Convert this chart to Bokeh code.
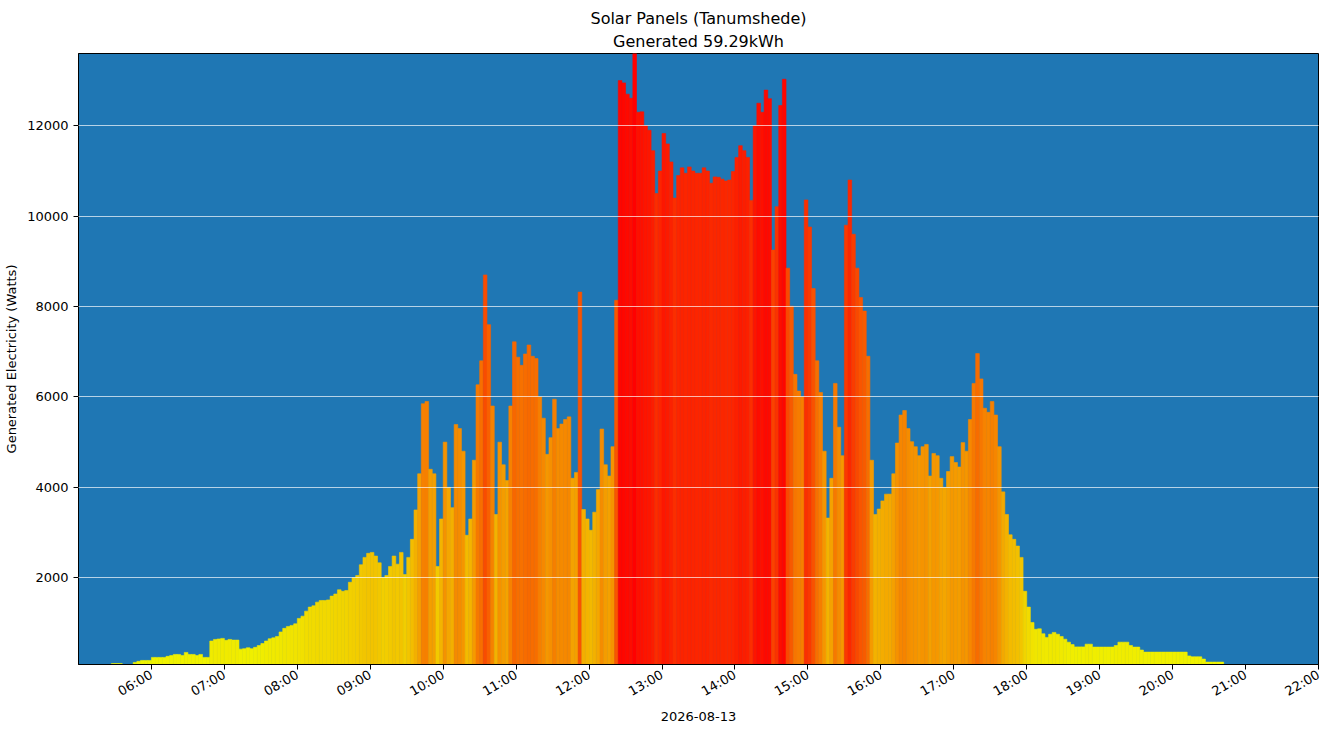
import math
import pandas as pd
from bokeh.plotting import figure
from bokeh.models import (ColumnDataSource, Range1d, FixedTicker,
                          DatetimeTickFormatter, Title)
from bokeh.embed import file_html
from bokeh.resources import INLINE

# readings of the day, one value per 3 minute slot (Watts)
day = "2026-08-13"
first_slot = "05:27"
slot_minutes = 3
watts = [
    # 05:27 - 05:57
    100, 100, 100, 0, 0, 0, 126, 150, 170, 170, 170,
    # 06:00
    237, 237, 237, 237, 260, 280, 303, 303, 280, 347,
    303, 303, 280, 303, 237, 237, 600, 635, 645, 658,
    # 07:00
    615, 635, 620, 620, 420, 430, 450, 430, 460, 500,
    545, 600, 650, 670, 700, 800, 880, 922, 945, 980,
    # 08:00
    1100, 1150, 1261, 1350, 1380, 1460, 1497, 1497, 1510, 1593,
    1640, 1733, 1700, 1718, 1900, 2000, 2050, 2287, 2450, 2540,
    # 09:00
    2560, 2480, 2330, 2007, 2050, 2250, 2480, 2300, 2560, 2070,
    2450, 2850, 3500, 4300, 5850, 5900, 4400, 4300, 2250, 3300,
    # 10:00
    5000, 4000, 3550, 5390, 5300, 4800, 2940, 3300, 4600, 6270,
    6800, 8700, 7600, 5800, 3400, 5000, 4500, 4150, 5800, 7220,
    # 11:00
    6880, 6700, 6950, 7150, 6900, 6850, 6000, 5530, 4730, 5100,
    5950, 5300, 5400, 5500, 5560, 4200, 4330, 8320, 3510, 3300,
    # 12:00
    3050, 3450, 3950, 5290, 4500, 4250, 4900, 8140, 13000, 12950,
    12700, 12610, 13600, 12300, 12310, 12000, 11900, 11450, 10500, 11000,
    # 13:00
    11830, 11600, 11200, 10400, 10900, 11070, 10950, 11090, 11000, 10950,
    10950, 11070, 11000, 10730, 10870, 10860, 10820, 10780, 10800, 10990,
    # 14:00
    11300, 11560, 11450, 11300, 10350, 12000, 12500, 12300, 12790, 12600,
    9250, 10210, 12450, 13030, 8850, 8010, 6500, 6130, 6000, 10360,
    # 15:00
    9760, 8400, 6800, 6100, 4800, 3320, 4200, 6300, 5330, 4700,
    9800, 10800, 9600, 8850, 8200, 7900, 6900, 4600, 3400, 3520,
    # 16:00
    3700, 3850, 3850, 4300, 4980, 5600, 5700, 5300, 5010, 4900,
    4700, 4900, 4950, 4250, 4750, 4700, 4200, 4000, 4350, 4680,
    # 17:00
    4550, 4450, 4990, 4800, 5500, 6300, 6960, 6400, 5750, 5660,
    5900, 5600, 4900, 3900, 3400, 2950, 2850, 2700, 2450, 1700,
    # 18:00
    1350, 1010, 860, 870, 760, 680, 750, 790, 750, 700,
    640, 574, 520, 470, 470, 470, 530, 530, 465, 465,
    # 19:00
    465, 465, 465, 465, 500, 574, 574, 574, 500, 465,
    465, 400, 354, 354, 354, 354, 354, 354, 354, 354,
    # 20:00 - 20:39
    354, 354, 354, 354, 270, 250, 250, 250, 200, 133,
    133, 133, 133, 133,
]
hour_ticks = ["06:00", "07:00", "08:00", "09:00", "10:00", "11:00", "12:00",
              "13:00", "14:00", "15:00", "16:00", "17:00", "18:00", "19:00",
              "20:00", "21:00", "22:00"]
watt_ticks = [2000, 4000, 6000, 8000, 10000, 12000]
total_kwh = 59.29
peak = max(watts)


def power_colour(w):
    # yellow for little power, red for the most
    f = min(w / peak, 1.0)
    r = int(240 + 15 * f)
    g = int(248 * (1 - f) ** 1.15)
    return "#%02x%02x00" % (r, g)


slot = pd.Timedelta(minutes=slot_minutes)
starts = pd.date_range(day + " " + first_slot, periods=len(watts), freq=slot)
src = ColumnDataSource(dict(
    x=starts + slot / 2,
    top=watts,
    colour=[power_colour(w) for w in watts],
))

font = "DejaVu Sans"
p = figure(title=None, x_axis_type="datetime",
           frame_width=1240, frame_height=611,
           x_range=Range1d(pd.Timestamp(day + " 05:00"), pd.Timestamp(day + " 22:00")),
           y_range=Range1d(80, 13600),
           output_backend="svg", toolbar_location=None,
           min_border_left=78, min_border_right=4,
           min_border_top=0, min_border_bottom=0)

p.vbar(x="x", top="top", bottom=0, width=slot.total_seconds() * 1000,
       fill_color="colour", line_color="colour", line_width=0.6, source=src)

p.add_layout(Title(text="Generated %.2fkWh" % total_kwh, align="center",
                   text_font=font, text_font_size="16px", text_color="black",
                   text_font_style="normal", standoff=5), "above")
p.add_layout(Title(text="Solar Panels (Tanumshede)", align="center",
                   text_font=font, text_font_size="16px", text_color="black",
                   text_font_style="normal", standoff=0), "above")
# a little white space above the title
p.add_layout(Title(text=" ", text_font_size="1px", standoff=3), "above")

p.background_fill_color = "#1f77b4"
p.border_fill_color = "white"
p.outline_line_color = "black"
p.outline_line_width = 1

p.xgrid.visible = False
p.ygrid.grid_line_color = "white"
p.ygrid.grid_line_width = 0.8
p.ygrid.grid_line_alpha = 0.85
p.ygrid.level = "overlay"

p.xaxis.ticker = FixedTicker(ticks=[pd.Timestamp(day + " " + t).value // 10**6
                                    for t in hour_ticks])
p.xaxis.formatter = DatetimeTickFormatter(hours="%H:%M", hourmin="%H:%M",
                                          minutes="%H:%M", days="%H:%M")
p.xaxis.major_label_orientation = math.pi / 6
p.xaxis.axis_label = day

p.yaxis.ticker = FixedTicker(ticks=watt_ticks)
p.yaxis.axis_label = "Generated Electricity (Watts)"

for ax in p.axis:
    ax.axis_line_color = "black"
    ax.major_tick_line_color = "black"
    ax.major_tick_out = 5
    ax.major_tick_in = 0
    ax.minor_tick_line_color = None
    ax.major_label_text_font = font
    ax.major_label_text_font_size = "13px"
    ax.major_label_text_color = "black"
    ax.major_label_standoff = 5
    ax.axis_label_text_font = font
    ax.axis_label_text_font_size = "13px"
    ax.axis_label_text_font_style = "normal"
    ax.axis_label_text_color = "black"
p.xaxis.major_label_standoff = 4
p.xaxis.axis_label_standoff = 4
p.yaxis.axis_label_standoff = 5

open("out.html", "w").write(file_html(p, INLINE))
